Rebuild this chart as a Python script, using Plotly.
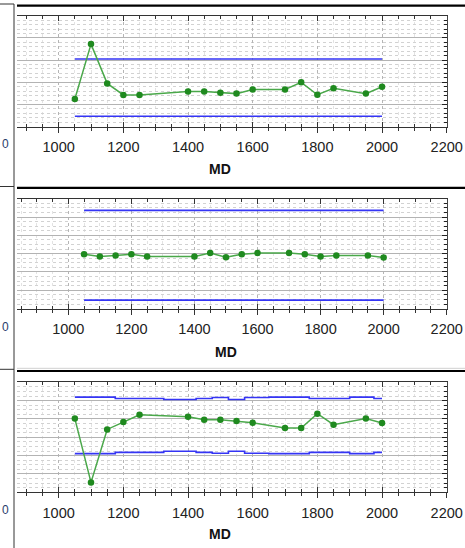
import plotly.graph_objects as go

W, H = 465, 548

# ---------------- data ----------------
md = [1050, 1100, 1150, 1200, 1250, 1400, 1450, 1500, 1550, 1600, 1700, 1750, 1800, 1850, 1950, 2000]
x_ticks = [800, 1000, 1200, 1400, 1600, 1800, 2000, 2200]

p1_values = [1.25, 3.72, 1.95, 1.43, 1.43, 1.58, 1.58, 1.53, 1.49, 1.68, 1.68, 2.00, 1.44, 1.73, 1.49, 1.80]
p1_ucl = 3.05
p1_lcl = 0.47

p2_values = [2.97, 2.85, 2.90, 2.97, 2.85, 2.85, 3.03, 2.81, 2.97, 3.03, 3.03, 2.97, 2.85, 2.90, 2.90, 2.79]
p2_ucl = 5.36
p2_lcl = 0.46

p3_values = [4.02, 0.54, 3.43, 3.83, 4.23, 4.12, 3.96, 3.96, 3.89, 3.79, 3.51, 3.51, 4.29, 3.69, 4.02, 3.78]
p3_ucl = [5.19, 5.19, 5.19, 5.12, 5.12, 5.06, 5.12, 5.17, 5.06, 5.17, 5.19, 5.19, 5.12, 5.12, 5.19, 5.12]
p3_lcl = [2.11, 2.11, 2.11, 2.18, 2.18, 2.24, 2.18, 2.13, 2.24, 2.13, 2.11, 2.11, 2.18, 2.18, 2.11, 2.18]

x_title = "MD"
cut_label = "0"

# ---------------- layout helpers ----------------
GREEN_LINE = "#4aa84a"
GREEN_MARK = "#1f8a1f"
BLUE = "#3535f5"
FONT = "Arial, Liberation Sans, sans-serif"


def px_x(p):
    return p / W


def px_y(p):
    return 1 - p / H


# top px, bottom px, x range (clipped on the left), y range, y minor step, title px
panels = [
    dict(top=15.7, bottom=126.7, xr=[871.1, 2200], yr=[0, 5], ym=0.2, tx=220.0, ty=169.0, cy=143.5),
    dict(top=198.7, bottom=308.6, xr=[837.3, 2200], yr=[0, 6], ym=0.25, tx=226.0, ty=351.7, cy=326.5),
    dict(top=382.3, bottom=492.3, xr=[871.1, 2200], yr=[0, 6], ym=0.25, tx=220.0, ty=534.0, cy=510.0),
]

fig = go.Figure()

series = [
    (p1_values, [md[0], md[-1]], [p1_ucl, p1_ucl], [p1_lcl, p1_lcl], "linear"),
    (p2_values, [md[0], md[-1]], [p2_ucl, p2_ucl], [p2_lcl, p2_lcl], "linear"),
    (p3_values, md, p3_ucl, p3_lcl, "hvh"),
]

for i, (vals, lx, ucl, lcl, shape) in enumerate(series, start=1):
    xa = "x" if i == 1 else f"x{i}"
    xo = f"x{i + 3}"
    ya = "y" if i == 1 else f"y{i}"
    fig.add_trace(go.Scatter(x=lx, y=ucl, mode="lines", line=dict(color=BLUE, width=1.6, shape=shape),
                             xaxis=xa, yaxis=ya, hoverinfo="skip"))
    fig.add_trace(go.Scatter(x=lx, y=lcl, mode="lines", line=dict(color=BLUE, width=1.6, shape=shape),
                             xaxis=xa, yaxis=ya, hoverinfo="skip"))
    fig.add_trace(go.Scatter(x=md, y=vals, mode="lines+markers",
                             line=dict(color=GREEN_LINE, width=1.5),
                             marker=dict(color=GREEN_MARK, size=6.5),
                             xaxis=xo, yaxis=ya))

layout = dict(
    width=W, height=H, autosize=False,
    margin=dict(l=0, r=0, t=0, b=0, pad=0, autoexpand=False),
    paper_bgcolor="white", plot_bgcolor="white",
    showlegend=False,
    font=dict(family=FONT, size=14, color="#222"),
)

annotations = []
shapes = []

x0, x1 = px_x(17), px_x(446.7)

for i, p in enumerate(panels, start=1):
    sx = "" if i == 1 else str(i)
    dom_y = [px_y(p["bottom"]), px_y(p["top"])]
    layout[f"xaxis{sx}"] = dict(
        domain=[x0, x1], range=p["xr"], anchor=f"y{sx}", automargin=False,
        tickmode="array", tickvals=x_ticks, showticklabels=False,
        ticks="inside", ticklen=5, tickcolor="#333", tickwidth=1,
        showline=True, linecolor="#333", linewidth=1, mirror="ticks",
        showgrid=True, gridcolor="#b5b5b5", griddash="dot", gridwidth=1,
        zeroline=False,
        minor=dict(dtick=50, tick0=0, ticks="inside", ticklen=3, tickcolor="#333",
                   showgrid=True, gridcolor="#e3e3e3", gridwidth=1),
    )
    layout[f"xaxis{i + 3}"] = dict(
        overlaying=f"x{sx}", anchor=f"y{sx}", side="bottom", range=p["xr"], automargin=False,
        tickmode="array", tickvals=x_ticks,
        ticks="outside", ticklen=5, tickcolor="#333", tickwidth=1,
        tickfont=dict(family=FONT, size=14.5, color="#222"),
        ticklabelstandoff=2, ticklabeloverflow="allow",
        showline=False, showgrid=False, zeroline=False,
        minor=dict(dtick=50, tick0=0, ticks="outside", ticklen=3, tickcolor="#333", showgrid=False),
    )
    layout[f"yaxis{sx}"] = dict(
        domain=dom_y, range=p["yr"], anchor=f"x{sx}", side="right", automargin=False,
        dtick=1, tick0=0, showticklabels=False,
        ticks="inside", ticklen=5, tickcolor="#222",
        showline=True, linecolor="#444", linewidth=1,
        showgrid=True, gridcolor="#b3b3b3", gridwidth=1,
        zeroline=False,
        minor=dict(dtick=p["ym"], ticks="inside", ticklen=3, tickcolor="#222",
                   showgrid=True, gridcolor="#d2d2d2", griddash="dot"),
    )
    annotations.append(dict(text=f"<b>{x_title}</b>", x=px_x(p["tx"]), y=px_y(p["ty"]),
                            xref="paper", yref="paper", xanchor="center", yanchor="middle",
                            showarrow=False, font=dict(family=FONT, size=14, color="#111")))
    annotations.append(dict(text=cut_label, x=0, y=px_y(p["cy"]),
                            xref="paper", yref="paper", xanchor="left", yanchor="middle",
                            showarrow=False, font=dict(family=FONT, size=12, color="#2a3d6a")))

# separators and left column frame
for yy in (5.7, 187.8, 371.0):
    shapes.append(dict(type="line", xref="paper", yref="paper",
                       x0=px_x(17), x1=1.0, y0=px_y(yy), y1=px_y(yy),
                       line=dict(color="black", width=2.2)))
shapes.append(dict(type="line", xref="paper", yref="paper",
                   x0=px_x(17), x1=1.0, y0=px_y(368.3), y1=px_y(368.3),
                   line=dict(color="#d0d0d0", width=1)))
shapes.append(dict(type="line", xref="paper", yref="paper",
                   x0=px_x(14), x1=px_x(14), y0=px_y(4), y1=0,
                   line=dict(color="#333", width=1)))
for yy in (4.0, 186.5, 369.3):
    shapes.append(dict(type="line", xref="paper", yref="paper",
                       x0=0, x1=px_x(14), y0=px_y(yy), y1=px_y(yy),
                       line=dict(color="#333", width=1)))

layout["annotations"] = annotations
layout["shapes"] = shapes
fig.update_layout(**layout)

fig.write_html("out.html")
